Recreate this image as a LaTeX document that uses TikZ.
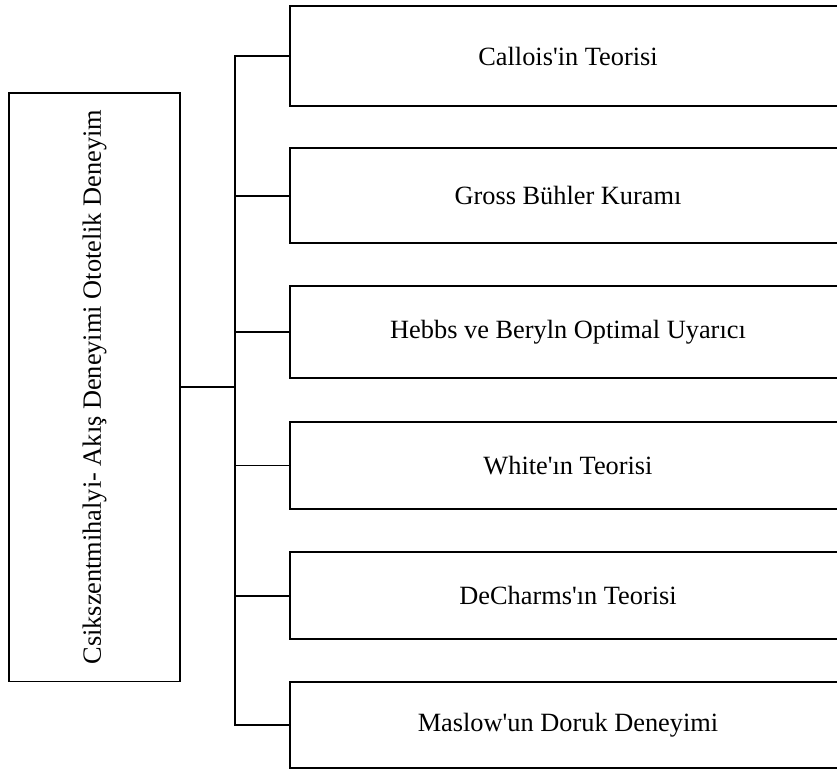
\documentclass[tikz,border=0pt]{standalone}
\usepackage{fontspec}
\setmainfont{Liberation Serif}
\usepackage{tikz}

\tikzset{
  theory/.style={draw, minimum width=8.9cm, minimum height=1.39cm, font=\fontsize{12}{14}\selectfont},
}

\begin{document}
\begin{tikzpicture}[x=0.016cm, y=-0.016cm, line width=0.75pt]
\useasboundingbox (0,0) rectangle (837,769);

\node[draw, minimum width=2.73cm, minimum height=9.42cm, font=\fontsize{12}{14}\selectfont] (flow) at (94.6,387.2) {\rotatebox{90}{Csikszentmihalyi- Akış Deneyimi Ototelik Deneyim}};

\node[theory, minimum height=1.6cm] (callois) at (568,56) {Callois\textquotesingle in Teorisi};
\node[theory, minimum height=1.52cm] (gross) at (568,195.7) {Gross Bühler Kuramı};
\node[theory, minimum height=1.47cm] (hebbs) at (568,332) {Hebbs ve Beryln Optimal Uyarıcı};
\node[theory] (white) at (568,465.5) {White\textquotesingle ın Teorisi};
\node[theory] (decharms) at (568,595.7) {DeCharms\textquotesingle ın Teorisi};
\node[theory, minimum height=1.38cm] (maslow) at (568,725) {Maslow\textquotesingle un Doruk Deneyimi};

\coordinate (trunk) at (235,387.2);
\draw (flow.east) -- (trunk);
\foreach \n in {callois,gross,hebbs,white,decharms,maslow}
  \draw (trunk) |- (\n.west);
\end{tikzpicture}
\end{document}
